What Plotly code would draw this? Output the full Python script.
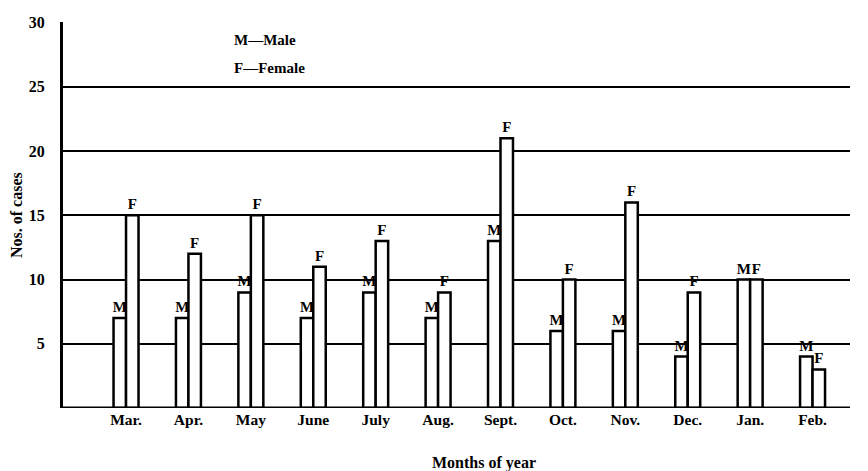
import plotly.graph_objects as go

months = ["Mar.", "Apr.", "May", "June", "July", "Aug.", "Sept.", "Oct.", "Nov.", "Dec.", "Jan.", "Feb."]
male = [7, 7, 9, 7, 9, 7, 13, 6, 6, 4, 10, 4]
female = [15, 12, 15, 11, 13, 9, 21, 10, 16, 9, 10, 3]
y_ticks = [5, 10, 15, 20, 25, 30]

serif = "Liberation Serif"
x_idx = list(range(len(months)))

fig = go.Figure()
fig.add_trace(go.Bar(
    x=x_idx, y=male, name="Male", text=["<b>M</b>"] * len(male),
    textposition="outside", constraintext="none", cliponaxis=False,
    textfont=dict(family=serif, size=15, color="black"),
    marker=dict(color="white", line=dict(color="black", width=2.5)),
))
fig.add_trace(go.Bar(
    x=x_idx, y=female, name="Female", text=["<b>F</b>"] * len(female),
    textposition="outside", constraintext="none", cliponaxis=False,
    textfont=dict(family=serif, size=15, color="black"),
    marker=dict(color="white", line=dict(color="black", width=2.5)),
))

pl, pr, pt, pb = 63, 868 - 18, 22, 471 - 63

fig.update_layout(
    width=868, height=471,
    margin=dict(l=pl, r=868 - pr, t=pt, b=471 - pb),
    paper_bgcolor="white", plot_bgcolor="white",
    barmode="group", bargap=0.6, bargroupgap=0,
    showlegend=False,
    font=dict(family=serif, size=15, color="black"),
    xaxis=dict(
        range=[-1.01, 11.6], automargin=False,
        tickvals=x_idx, ticktext=["<b>%s</b>" % m for m in months],
        showgrid=False, zeroline=False, showline=False, ticks="",
        tickfont=dict(family=serif, size=15.5, color="black"),
    ),
    yaxis=dict(
        range=[0, 30.05], automargin=False,
        tickvals=y_ticks, ticktext=["<b>%d</b>" % v for v in y_ticks],
        showgrid=True, gridcolor="black", gridwidth=2,
        zeroline=False, showline=True, linecolor="black", linewidth=3,
        ticks="", ticklabelstandoff=12,
        tickfont=dict(family=serif, size=16, color="black"),
    ),
    shapes=[
        dict(type="line", xref="paper", yref="y", x0=0, x1=1, y0=0, y1=0,
             line=dict(color="black", width=3)),
    ],
)


def px_ann(text, x, y, size, anchor, angle=0):
    fig.add_annotation(
        text=text, x=(x - pl) / (pr - pl), y=(pb - y) / (pb - pt),
        xref="paper", yref="paper", showarrow=False, textangle=angle,
        xanchor=anchor, yanchor="middle",
        font=dict(family=serif, size=size, color="black"),
    )


px_ann("<b>M—Male</b>", 232, 40, 15, "left")
px_ann("<b>F—Female</b>", 232, 68, 15, "left")
px_ann("<b>Months of year</b>", 484, 463, 16, "center")
px_ann("<b>Nos. of cases</b>", 16, 215, 16, "center", -90)

fig.write_html("out.html", config={"displayModeBar": False},
               post_script="document.body.style.margin='0';")
